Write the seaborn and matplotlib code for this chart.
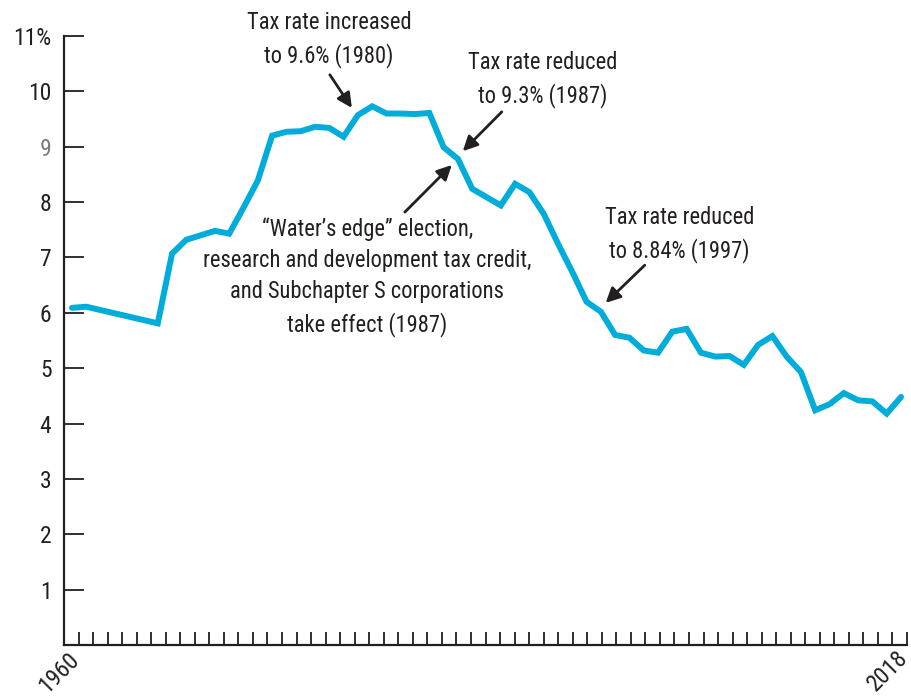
import numpy as np
import pandas as pd
import matplotlib
matplotlib.use("Agg")
import matplotlib.pyplot as plt
import seaborn as sns
from matplotlib import font_manager
from matplotlib.font_manager import FontProperties
from matplotlib.textpath import TextPath

years = list(range(1960, 2019))
rates = [6.09, 6.11, 6.05, 5.99, 5.93, 5.87, 5.81, 7.07, 7.32, 7.40,
         7.48, 7.43, 7.90, 8.39, 9.20, 9.27, 9.28, 9.36, 9.34, 9.18,
         9.57, 9.73, 9.60, 9.60, 9.59, 9.61, 8.99, 8.78, 8.24, 8.09,
         7.94, 8.33, 8.18, 7.79, 7.25, 6.74, 6.20, 6.02, 5.60, 5.55,
         5.32, 5.28, 5.66, 5.71, 5.28, 5.21, 5.22, 5.06, 5.42, 5.58,
         5.21, 4.93, 4.24, 4.35, 4.55, 4.42, 4.40, 4.18, 4.48]
ytick_vals = [1, 2, 3, 4, 5, 6, 7, 8, 9, 10, 11]
ytick_labels = ["1", "2", "3", "4", "5", "6", "7", "8", "9", "10", "11%"]
xtick_labels = ["1960", "2018"]

annotations = [
    "Tax rate increased\nto 9.6% (1980)",
    "Tax rate reduced\nto 9.3% (1987)",
    "\u201cWater\u2019s edge\u201d election,\nresearch and development tax credit,\nand Subchapter S corporations\ntake effect (1987)",
    "Tax rate reduced\nto 8.84% (1997)",
]

df = pd.DataFrame({"year": years, "rate": rates})

sns.set_theme(style="white")


def text_w(fp, s):
    return TextPath((0, 0), s, size=100, prop=fp).get_extents().width


def is_mono(fp):
    try:
        return abs(text_w(fp, "iiiiii") - text_w(fp, "MMMMMM")) < 1e-3 * text_w(fp, "MMMMMM") + 5
    except Exception:
        return True


# pick the narrowest proportional regular sans face that is installed
ok_families = ("Noto Sans", "Roboto", "Open Sans", "Liberation Sans", "DejaVu Sans", "Lato", "Inter")
cands = []
for f in font_manager.fontManager.ttflist:
    if not f.name.startswith(ok_families):
        continue
    if "Mono" in f.name or "CJK" in f.name or f.style != "normal":
        continue
    if f.weight not in (400, "normal", "regular", "book"):
        continue
    if not f.fname.lower().endswith((".ttf", ".otf")):
        continue
    cands.append(f)

best_fp = FontProperties(family="DejaVu Sans")
best_w = text_w(best_fp, "Tax rate increased")
for f in cands:
    try:
        fp = FontProperties(fname=f.fname)
        if is_mono(fp):
            continue
        w = text_w(fp, "Tax rate increased")
        if w < best_w:
            best_w, best_fp = w, fp
    except Exception:
        pass

fontfile = font_manager.findfont(best_fp)
font_manager.fontManager.addfont(fontfile)
famname = FontProperties(fname=fontfile).get_name()
plt.rcParams["font.family"] = [famname, "DejaVu Sans"]

# size so that "Tax rate increased" is ~162 px wide (as in the reference)
target_px = 162.0
w100 = text_w(FontProperties(fname=fontfile), "Tax rate increased")
FS = min(18.0, max(13.0, target_px / w100 * 100 * 72 / 100))
TS = min(17.0, FS + 1.5)

INK = "#231f20"
BLUE = "#00acd9"

fig = plt.figure(figsize=(9.12, 6.96), dpi=100)
ax = fig.add_axes([64 / 912, 51 / 696, (907 - 64) / 912, (645 - 36) / 696])

sns.lineplot(data=df, x="year", y="rate", ax=ax, color=BLUE, linewidth=4.3)
for ln in ax.lines:
    ln.set_solid_joinstyle("miter")

xlo, xhi = 1959.44, 2018.42
ax.set_xlim(xlo, xhi)
ax.set_ylim(0, 11)
ax.set_xlabel("")
ax.set_ylabel("")

for s in ["top", "right"]:
    ax.spines[s].set_visible(False)
for s in ["left", "bottom"]:
    ax.spines[s].set_color(INK)
    ax.spines[s].set_linewidth(1.6)

ax.set_yticks(ytick_vals)
ax.set_yticklabels(ytick_labels)
ax.tick_params(axis="y", direction="in", length=14.4, width=1.3, color=INK,
               labelsize=TS, labelcolor=INK, pad=9, left=True)
for t in ax.get_yticklabels():
    if t.get_text() == "9":
        t.set_color("#7a7a7a")

xt = np.linspace(xlo, xhi, 59)
ax.set_xticks(xt)
ax.set_xticklabels([""] * len(xt))
ax.tick_params(axis="x", direction="in", length=9.5, width=1.3, color=INK, bottom=True)

# year labels at the ends of the axis
ax.annotate(xtick_labels[0], xy=(xt[0], 0), xycoords="data", xytext=(-4.5, -28),
            textcoords="offset pixels", rotation=45, ha="center", va="center",
            fontsize=TS, color=INK, annotation_clip=False)
ax.annotate(xtick_labels[1], xy=(xt[-1], 0), xycoords="data", xytext=(-19, -26),
            textcoords="offset pixels", rotation=45, ha="center", va="center",
            fontsize=TS, color=INK, annotation_clip=False)

text_pos = [(1977.97, 10.94), (1992.9, 10.21), (1980.66, 6.65), (2002.5, 7.42)]
arrows = [((1978.04, 10.30), (1979.58, 9.70)),
          ((1990.07, 9.63), (1987.34, 8.92)),
          ((1983.29, 7.82), (1986.57, 8.67)),
          ((2000.07, 6.86), (1997.34, 6.18))]

for txt, (tx, ty) in zip(annotations, text_pos):
    ax.text(tx, ty, txt, ha="center", va="center", fontsize=FS, color=INK,
            linespacing=1.45, clip_on=False)
for (tail, head) in arrows:
    ax.annotate("", xy=head, xytext=tail, xycoords="data", textcoords="data",
                arrowprops=dict(arrowstyle="-|>", color=INK, lw=2.0,
                                mutation_scale=22, shrinkA=0, shrinkB=0))

fig.savefig("out.png", dpi=100)
